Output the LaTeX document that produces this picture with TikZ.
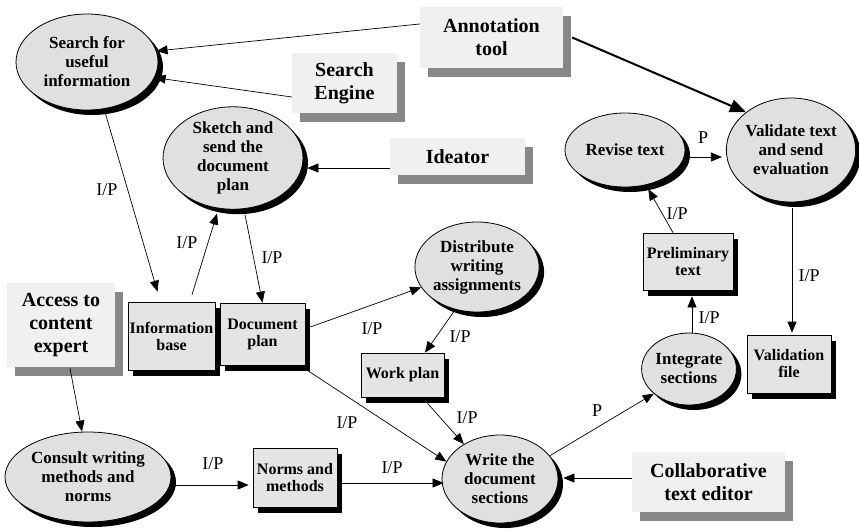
\documentclass[tikz,border=0pt]{standalone}
\usepackage{fontspec}
\setmainfont{Liberation Serif}
\usetikzlibrary{shapes.geometric,shadows,arrows.meta,calc}
\definecolor{procfill}{HTML}{E0E0E0}
\definecolor{storefill}{HTML}{E4E4E4}
\definecolor{entfill}{HTML}{F0F0F0}
\definecolor{entshadow}{HTML}{888888}
\begin{document}
\begin{tikzpicture}[x=1pt,y=-1pt,
  process/.style={ellipse, draw=black, line width=0.8pt, fill=procfill,
    inner sep=0pt, align=center, font=\fontsize{17}{19}\selectfont\bfseries,
    drop shadow={shadow xshift=5pt, shadow yshift=-5pt, opacity=1, fill=black}},
  store/.style={rectangle, draw=black, line width=0.7pt, fill=storefill,
    inner sep=0pt, align=center, font=\fontsize{16}{17}\selectfont\bfseries,
    drop shadow={shadow xshift=5pt, shadow yshift=-6pt, opacity=1, fill=black}},
  entity/.style={rectangle, fill=entfill, inner sep=0pt, align=center,
    font=\fontsize{20}{23}\selectfont\bfseries,
    drop shadow={shadow xshift=8pt, shadow yshift=-9pt, opacity=1, fill=entshadow}},
  flow/.style={-{Triangle[length=11pt,width=9pt]}, line width=0.7pt},
  lbl/.style={font=\fontsize{18}{18}\selectfont, inner sep=0pt}
]
\useasboundingbox (0,0) rectangle (859,530);

% processes
\node[process, minimum width=142pt, minimum height=96pt] (search) at (87,62)
  {Search for\\useful\\information};
\node[process, minimum width=140pt, minimum height=100pt] (sketch) at (233,158)
  {Sketch and\\send the\\document\\plan};
\node[process, minimum width=124pt, minimum height=90pt] (distribute) at (477,267)
  {Distribute\\writing\\assignments};
\node[process, minimum width=120pt, minimum height=74pt] (revise) at (625,150)
  {Revise text};
\node[process, minimum width=128pt, minimum height=104pt] (validate) at (791,150)
  {Validate text\\and send\\evaluation};
\node[process, minimum width=86pt, minimum height=72pt] (integrate) at (689,369)
  {Integrate\\sections};
\node[process, minimum width=116pt, minimum height=88pt] (write) at (500,479)
  {Write the\\document\\sections};
\node[process, minimum width=166pt, minimum height=90pt] (consult) at (88,477)
  {Consult writing\\methods and\\norms};

% data stores
\node[store, minimum width=87pt, minimum height=68pt] (infobase) at (171.5,336)
  {Information\\base};
\node[store, minimum width=85pt, minimum height=62pt] (docplan) at (262.5,334)
  {Document\\plan};
\node[store, minimum width=83pt, minimum height=44pt] (workplan) at (402.5,375)
  {Work plan};
\node[store, minimum width=84pt, minimum height=59pt] (norms) at (295,477.5)
  {Norms and\\methods};
\node[store, minimum width=90pt, minimum height=57pt] (prelim) at (688,261.5)
  {Preliminary\\text};
\node[store, minimum width=84pt, minimum height=58pt] (valfile) at (789,364)
  {Validation\\file};

% external tools and actors
\node[entity, minimum width=143pt, minimum height=61pt] (annot) at (491.5,37.5)
  {Annotation\\tool};
\node[entity, minimum width=105pt, minimum height=60pt] (engine) at (344.5,83)
  {Search\\Engine};
\node[entity, minimum width=135pt, minimum height=37pt] (ideator) at (457.5,156.5)
  {Ideator};
\node[entity, minimum width=108pt, minimum height=84pt] (access) at (61,325)
  {Access to\\content\\expert};
\node[entity, minimum width=153pt, minimum height=60pt] (collab) at (708.5,482)
  {Collaborative\\text editor};

% flows
\draw[flow] ($(annot.west)+(0,-13.5)$) -- (search.9);
\draw[flow] ($(engine.west)+(0,14)$) -- (search.-13);
\draw[-{Triangle[length=16pt,width=13pt]}, line width=2pt]
  ($(annot.east)+(9,0)$) -- (validate.140);
\draw[flow] ($(ideator.west)+(0,11.5)$) -- ($(sketch.east)+(4,10)$);

\draw[flow] (search.-70) -- ($(infobase.north)+(-14,-10)$);
\node[lbl] (l1) at (107,190) {I/P};
\draw[flow] ($(infobase.north)+(20.5,-7)$) -- ($(sketch.south)+(-16,4)$);
\node[lbl] (l2) at (187,243) {I/P};
\draw[flow] ($(sketch.south)+(12,5)$) -- (docplan.north);
\node[lbl] (l3) at (272,258) {I/P};
\draw[flow] ($(docplan.east)+(5,-7)$) -- (distribute.200);
\node[lbl] (l4) at (372,329) {I/P};
\draw[flow] (distribute.243) -- ($(workplan.north)+(22.5,0)$);
\node[lbl] (l5) at (460,337) {I/P};
\draw[flow] ($(docplan.south east)+(2,5)$) -- (write.162);
\node[lbl] (l6) at (347,423) {I/P};
\draw[flow] ($(workplan.south)+(25,6)$) -- (write.136);
\node[lbl] (l7) at (467,418) {I/P};
\draw[flow] ($(norms.east)+(5,5.5)$) -- ($(write.west)+(2,4)$);
\node[lbl] (l8) at (392,468) {I/P};
\draw[flow] ($(consult.east)+(2,8)$) -- ($(norms.west)+(-4,7.5)$);
\node[lbl] (l9) at (213,464) {I/P};
\draw[flow] ($(access.south)+(9,1)$) -- ($(consult.north)+(-6,0)$);

\draw[flow] (write.25) -- (integrate.215);
\node[lbl] (l10) at (597,411) {P};
\draw[flow] ($(collab.west)+(0,-4)$) -- ($(write.east)+(5,-1)$);
\draw[flow] ($(integrate.north)+(3,0)$) -- ($(prelim.south)+(4,6)$);
\node[lbl] (l11) at (709,318) {I/P};
\draw[flow] ($(prelim.north)+(-15,0)$) -- ($(revise.-60)+(3,4)$);
\node[lbl] (l12) at (677,214) {I/P};
\draw[flow] ($(revise.east)+(2,7)$) -- ($(validate.west)+(-4,7)$);
\node[lbl] (l13) at (703,138) {P};
\draw[flow] ($(validate.south)+(1,6)$) -- ($(valfile.north)+(3,-2)$);
\node[lbl] (l14) at (809,276) {I/P};
\end{tikzpicture}
\end{document}
